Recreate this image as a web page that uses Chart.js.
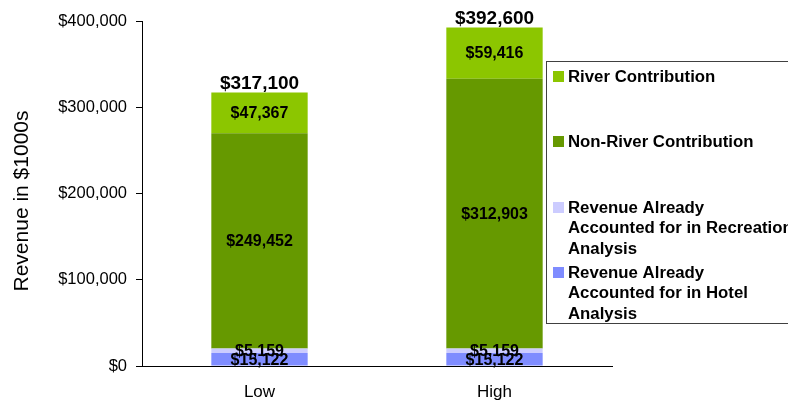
<!DOCTYPE html>
<html>
<head>
<meta charset="utf-8">
<script src="https://cdn.jsdelivr.net/npm/chart.js@4"></script>
<style>
    html, body { margin: 0; padding: 0; background: #fff; overflow: hidden; }
    #wrap { width: 788px; height: 402px; position: relative; }
</style>
</head>
<body>
<div id="wrap"><canvas id="revenueChart" width="788" height="402"></canvas></div>
<script>
const FONT = "'Liberation Sans', Arial, Helvetica, sans-serif";

// Chart data
const categories = ['Low', 'High'];
const hotelRevenue = [15122, 15122];
const recreationRevenue = [5159, 5159];
const nonRiverContribution = [249452, 312903];
const riverContribution = [47367, 59416];
const yTicks = [0, 100000, 200000, 300000, 400000];

const seriesLabels = [
    'Revenue Already Accounted for in Hotel Analysis',
    'Revenue Already Accounted for in Recreation Analysis',
    'Non-River Contribution',
    'River Contribution'
];
// legend text, as wrapped in the original
const legendLines = [
    ['Revenue Already', 'Accounted for in Hotel', 'Analysis'],
    ['Revenue Already', 'Accounted for in Recreation', 'Analysis'],
    ['Non-River Contribution'],
    ['River Contribution']
];
const seriesColors = ['#7F8CFF', '#CCCCFF', '#669900', '#8CC600'];

function money(v) {
    return '$' + Math.round(v).toLocaleString('en-US');
}

// Segment values and bar totals
const valueLabels = {
    id: 'valueLabels',
    afterDatasetsDraw(chart) {
        const ctx = chart.ctx;
        ctx.save();
        ctx.fillStyle = '#000';
        ctx.textAlign = 'center';
        ctx.textBaseline = 'middle';
        ctx.font = 'bold 16px ' + FONT;
        chart.data.datasets.forEach((ds, i) => {
            const meta = chart.getDatasetMeta(i);
            meta.data.forEach((bar, j) => {
                ctx.fillText(money(ds.data[j]), bar.x, (bar.y + bar.base) / 2 + 1);
            });
        });

        ctx.font = 'bold 19px ' + FONT;
        ctx.textBaseline = 'bottom';
        const top = chart.getDatasetMeta(chart.data.datasets.length - 1);
        top.data.forEach((bar, j) => {
            let total = 0;
            chart.data.datasets.forEach(ds => { total += ds.data[j]; });
            ctx.fillText(money(total), bar.x, bar.y + 1);
        });
        ctx.restore();
    }
};

// Boxed legend at the right, plus the rotated axis title
const sideLegend = {
    id: 'sideLegend',
    afterDraw(chart) {
        const ctx = chart.ctx;
        ctx.save();

        ctx.fillStyle = '#000';
        ctx.font = '21px ' + FONT;
        ctx.textAlign = 'center';
        ctx.textBaseline = 'alphabetic';
        ctx.translate(28, 201);
        ctx.rotate(-Math.PI / 2);
        ctx.fillText('Revenue in $1000s', 0, 0);
        ctx.setTransform(1, 0, 0, 1, 0, 0);

        const boxX = 546, boxY = 61, boxH = 262;
        ctx.fillStyle = '#fff';
        ctx.fillRect(boxX, boxY, 300, boxH);
        ctx.strokeStyle = '#404040';
        ctx.lineWidth = 1;
        ctx.strokeRect(boxX + 0.5, boxY + 0.5, 300, boxH);

        const rowY = [76, 141, 207, 272];
        ctx.font = 'bold 16.8px ' + FONT;
        ctx.textAlign = 'left';
        ctx.textBaseline = 'middle';
        // legend order is reversed relative to the stack
        for (let k = 0; k < 4; k++) {
            const i = 3 - k;
            ctx.fillStyle = chart.data.datasets[i].backgroundColor;
            ctx.fillRect(553, rowY[k] - 5, 11, 11);
            ctx.fillStyle = '#000';
            legendLines[i].forEach((line, n) => {
                ctx.fillText(line, 568, rowY[k] + 1 + n * 20.5);
            });
        }
        ctx.restore();
    }
};

const seriesData = [hotelRevenue, recreationRevenue, nonRiverContribution, riverContribution];

new Chart(document.getElementById('revenueChart'), {
    type: 'bar',
    data: {
        labels: categories,
        datasets: seriesData.map((d, i) => ({
            label: seriesLabels[i],
            data: d,
            backgroundColor: seriesColors[i],
            borderWidth: 0,
            categoryPercentage: 1,
            barPercentage: 0.41
        }))
    },
    options: {
        responsive: false,
        animation: false,
        layout: { padding: { left: 0, right: 176, top: 21, bottom: 0 } },
        plugins: {
            legend: { display: false },
            tooltip: { enabled: false }
        },
        scales: {
            x: {
                stacked: true,
                grid: { display: false, drawTicks: false },
                border: { display: true, color: '#000', width: 1 },
                ticks: { color: '#000', font: { family: FONT, size: 17 }, padding: 16 },
                afterFit(scale) { scale.height = 36; }
            },
            y: {
                stacked: true,
                min: 0,
                max: 400000,
                afterBuildTicks(scale) {
                    scale.ticks = yTicks.map(v => ({ value: v }));
                },
                grid: {
                    drawOnChartArea: false,
                    drawTicks: true,
                    tickLength: 6,
                    color: '#000'
                },
                border: { display: true, color: '#000', width: 1 },
                ticks: {
                    color: '#000',
                    padding: 9,
                    font: { family: FONT, size: 16.5 },
                    callback: v => money(v)
                },
                afterFit(scale) { scale.width = 142; }
            }
        }
    },
    plugins: [valueLabels, sideLegend]
});
</script>
</body>
</html>
